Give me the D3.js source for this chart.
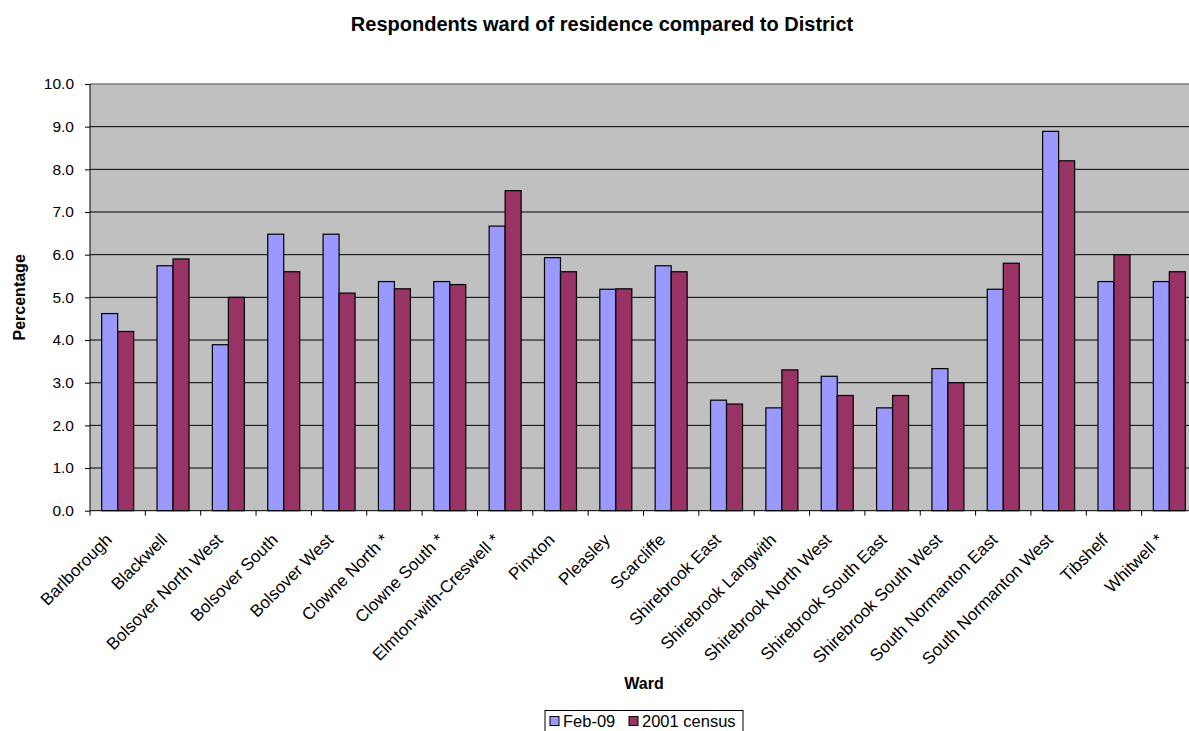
<!DOCTYPE html>
<html><head><meta charset="utf-8">
<script src="https://cdn.jsdelivr.net/npm/d3@7"></script>
<style>body{margin:0;background:#fff;} svg{display:block;font-family:"Liberation Sans",Arial,sans-serif;}</style>
</head><body>
<svg id="c" width="1189" height="731"></svg>
<script>
const categories = ["Barlborough","Blackwell","Bolsover North West","Bolsover South","Bolsover West","Clowne North *","Clowne South *","Elmton-with-Creswell *","Pinxton","Pleasley","Scarcliffe","Shirebrook East","Shirebrook Langwith","Shirebrook North West","Shirebrook South East","Shirebrook South West","South Normanton East","South Normanton West","Tibshelf","Whitwell *"];
const seriesNames = ["Feb-09","2001 census"];
const feb09 = [4.62,5.74,3.89,6.48,6.48,5.37,5.37,6.67,5.93,5.19,5.74,2.59,2.41,3.15,2.41,3.33,5.19,8.89,5.37,5.37];
const census2001 = [4.2,5.9,5.0,5.6,5.1,5.2,5.3,7.5,5.6,5.2,5.6,2.5,3.3,2.7,2.7,3.0,5.8,8.2,6.0,5.6];
const yTicks = [0,1,2,3,4,5,6,7,8,9,10];
const colors = ["#9999FF","#993366"];

const svg = d3.select("#c");
const L = 90, R = 1197, T = 84, B = 510.7;

const x = d3.scaleBand().domain(categories).range([L, R]).paddingInner(0).paddingOuter(0);
const x1 = d3.scaleBand().domain(seriesNames).range([0, x.bandwidth()]).paddingInner(0).paddingOuter(0.73);
const y = d3.scaleLinear().domain([0,10]).range([B, T]);

svg.append("rect").attr("x",L).attr("y",T).attr("width",R-L).attr("height",B-T).attr("fill","#C0C0C0");

svg.append("g").selectAll("line").data(yTicks.filter(d=>d>0 && d<10)).join("line")
  .attr("x1",L).attr("x2",R).attr("y1",d=>y(d)).attr("y2",d=>y(d))
  .attr("stroke","#000").attr("stroke-width",1);
svg.append("line").attr("x1",L).attr("x2",R).attr("y1",y(10)).attr("y2",y(10)).attr("stroke","#808080").attr("stroke-width",1.5);

const data = categories.map((c,i)=>({c, vals:[feb09[i], census2001[i]]}));
const g = svg.append("g").selectAll("g").data(data).join("g").attr("transform",d=>`translate(${x(d.c)},0)`);
g.selectAll("rect").data(d=>d.vals.map((v,j)=>({name:seriesNames[j], v, j}))).join("rect")
  .attr("x",d=>x1(d.name)).attr("width",x1.bandwidth())
  .attr("y",d=>y(d.v)).attr("height",d=>B-y(d.v))
  .attr("fill",d=>colors[d.j]).attr("stroke","#000").attr("stroke-width",1.2);

// y axis
const ya = svg.append("g").attr("transform",`translate(${L},0)`)
  .call(d3.axisLeft(y).tickValues(yTicks).tickFormat(d3.format(".1f")).tickSize(5).tickPadding(11));
ya.select(".domain").attr("stroke","#000").attr("d",`M0,${B}V${T}`);
ya.selectAll(".tick line").attr("stroke","#000");
ya.selectAll(".tick text").attr("font-size",15.5).attr("fill","#000").attr("font-family","Liberation Sans, Arial, sans-serif");

// x axis
const xa = svg.append("g").attr("transform",`translate(0,${B})`);
xa.append("line").attr("x1",L).attr("x2",R).attr("y1",0).attr("y2",0).attr("stroke","#000");
const xt = categories.map(c=>x(c)).concat([R]);
xa.selectAll("line.tk").data(xt).join("line").attr("class","tk")
  .attr("x1",d=>d).attr("x2",d=>d).attr("y1",0).attr("y2",5).attr("stroke","#000");
xa.selectAll("text").data(categories).join("text")
  .attr("transform",d=>`translate(${x(d)+x.bandwidth()/2-9},${26}) rotate(-45)`)
  .attr("text-anchor","end").attr("font-size",17).attr("fill","#000")
  .attr("dy","0.35em")
  .text(d=>d);

// title
svg.append("text").attr("x",602).attr("y",31).attr("text-anchor","middle")
  .attr("font-size",20).attr("font-weight","bold").text("Respondents ward of residence compared to District");
svg.append("text").attr("transform",`translate(25,${(T+B)/2}) rotate(-90)`).attr("text-anchor","middle")
  .attr("font-size",16).attr("font-weight","bold").text("Percentage");
svg.append("text").attr("x",644).attr("y",689).attr("text-anchor","middle")
  .attr("font-size",16).attr("font-weight","bold").text("Ward");

// legend
const lg = svg.append("g").attr("transform","translate(545,710.5)");
lg.append("rect").attr("x",0).attr("y",0).attr("width",198).attr("height",30).attr("fill","#fff").attr("stroke","#000");
const legX = [5, 84];
const items = lg.selectAll("g").data(seriesNames).join("g").attr("transform",(d,i)=>`translate(${legX[i]},0)`);
items.append("rect").attr("x",0).attr("y",6).attr("width",9).attr("height",9).attr("fill",(d,i)=>colors[i]).attr("stroke","#000");
items.append("text").attr("x",13).attr("y",16).attr("font-size",16.5).text(d=>d);
</script>
</body></html>
